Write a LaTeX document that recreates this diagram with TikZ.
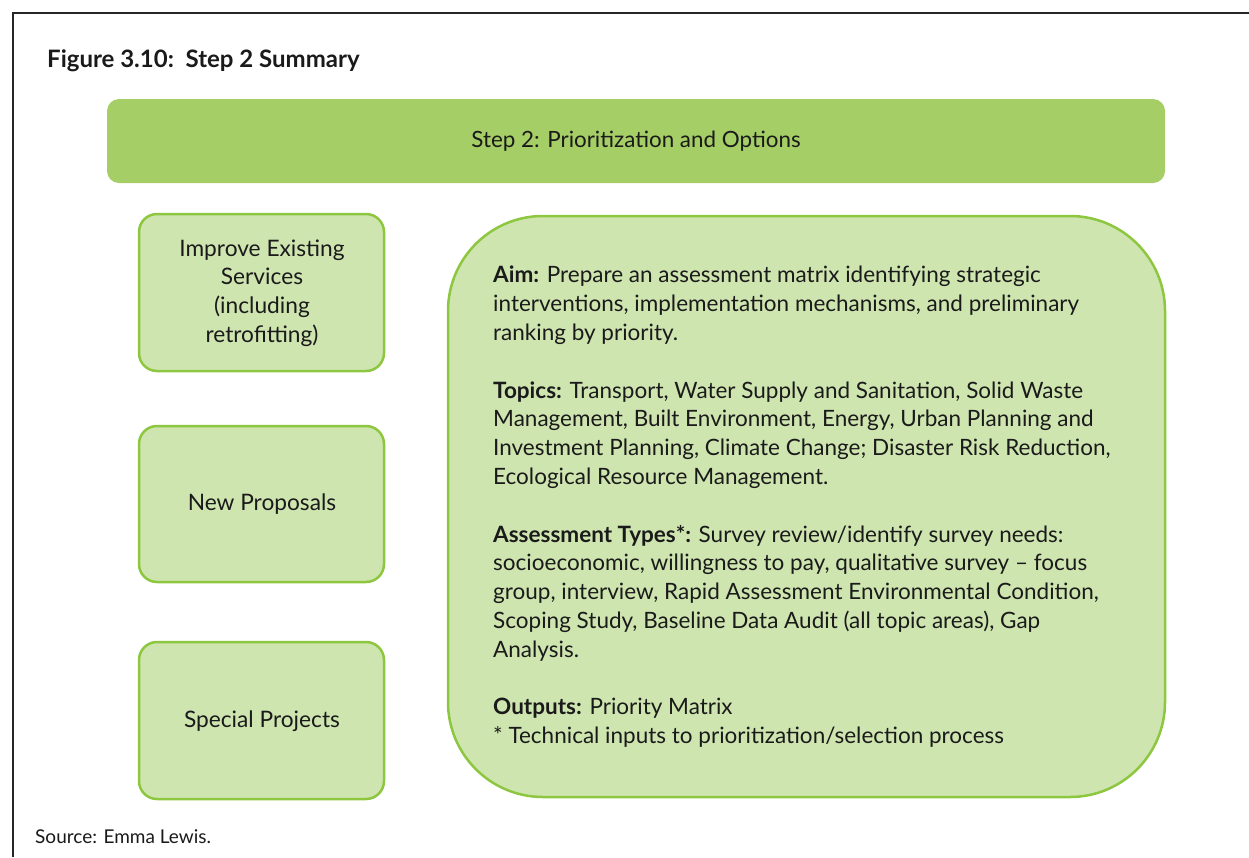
\documentclass[tikz,border=0pt]{standalone}
\usepackage{fontspec}
\setmainfont{Lato}
\definecolor{barfill}{HTML}{A6CE66}
\definecolor{boxfill}{HTML}{CFE5B0}
\definecolor{boxline}{HTML}{8DC63F}
\definecolor{ink}{HTML}{1A1A1A}
\tikzset{
  sidebox/.style={draw=boxline, line width=2.5pt, fill=boxfill, rounded corners=18pt},
  sidetext/.style={align=center, text=ink, font=\fontsize{22.7}{28.7}\selectfont},
  bodytext/.style={align=left, text=ink, anchor=north west, inner sep=0pt, font=\fontsize{22.5}{28.8}\selectfont},
}
\begin{document}
\begin{tikzpicture}[x=1pt,y=-1pt]
\useasboundingbox (0,0) rectangle (1249,857);
% frame
\draw[line width=2pt, black!85] (13,857) -- (13,13) -- (1249,13);
% title
\node[anchor=base west, inner sep=0pt, text=ink, font=\fontsize{24}{28}\selectfont\bfseries] (title) at (47,67) {Figure 3.10:\ \ Step 2 Summary};
% top bar
\fill[barfill, rounded corners=12pt] (107,99) rectangle (1165,183);
\node[text=ink, font=\fontsize{22.4}{26}\selectfont] (bar) at (636,141) {Step 2: Prioritization and Options};
% side boxes
\draw[sidebox] (139,214) rectangle (384,371);
\node[sidetext] (b1) at (262,293) {Improve Existing\\Services\\(including\\retrofitting)};
\draw[sidebox] (139,426) rectangle (384,582);
\node[sidetext] (b2) at (262,504) {New Proposals};
\draw[sidebox] (139,642) rectangle (384,799);
\node[sidetext] (b3) at (262,721) {Special Projects};
% big box
\draw[draw=boxline, line width=2.5pt, fill=boxfill, rounded corners=95pt] (448,216) rectangle (1165,797);
\node[bodytext] (body) at (493,266) {%
\textbf{Aim:} Prepare an assessment matrix identifying strategic\\
interventions, implementation mechanisms, and preliminary\\
ranking by priority.\\[28.8pt]
\textbf{Topics:} Transport, Water Supply and Sanitation, Solid Waste\\
Management, Built Environment, Energy, Urban Planning and\\
Investment Planning, Climate Change; Disaster Risk Reduction,\\
Ecological Resource Management.\\[28.8pt]
\textbf{Assessment Types*:} Survey review/identify survey needs:\\
socioeconomic, willingness to pay, qualitative survey -- focus\\
group, interview, Rapid Assessment Environmental Condition,\\
Scoping Study, Baseline Data Audit (all topic areas), Gap\\
Analysis.\\[28.8pt]
\textbf{Outputs:} Priority Matrix\\
* Technical inputs to prioritization/selection process};
% source
\node[anchor=base west, inner sep=0pt, text=ink, font=\fontsize{19}{22}\selectfont] (src) at (35,843) {Source: Emma Lewis.};
\end{tikzpicture}
\end{document}
